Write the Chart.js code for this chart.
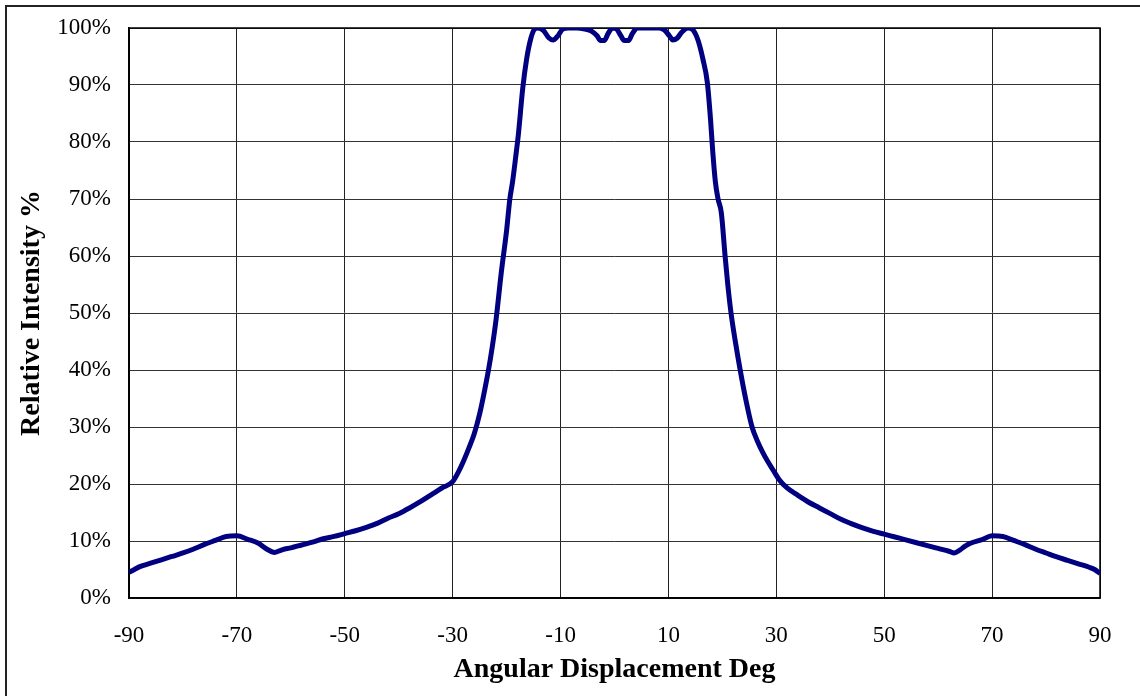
<!DOCTYPE html>
<html>
<head>
<meta charset="utf-8">
<script src="https://cdn.jsdelivr.net/npm/chart.js@4"></script>
<style>
  html, body { margin: 0; padding: 0; background: #fff; overflow: hidden; }
  canvas { display: block; }
</style>
</head>
<body>
<canvas id="grafico" width="1140" height="696"></canvas>
<script>
// angle (deg) and relative intensity (%)
const angles = [
  -90, -89, -88, -86, -84, -82, -80, -78, -76, -74, -72, -70, -68, -66, -64.5, -63, -61.5, -60,
  -58, -56, -54, -52, -50, -48, -46, -44, -42, -40, -38, -36, -34, -32, -30, -29, -28, -27,
  -26, -25, -24, -23, -22, -21, -20, -19.4, -18.9, -18.3, -17.8, -17, -16.3, -15.5, -14.8,
  -14.2, -13.2, -12.2, -11.4, -10.6, -9.6, -8.5, -7, -5.5, -4.2, -3.2, -2.6, -1.9, -1.2, -0.4,
  0.4, 1.2, 1.8, 2.6, 3.3, 4.2, 6, 8.3, 9.3, 10.2, 10.8, 11.6, 12.5, 13.6, 14.6, 15.5, 16.4,
  17.2, 17.8, 18.2, 18.7, 19.2, 19.8, 20.5, 21, 21.6, 22.4, 23.3, 24.3, 25.5, 26.5, 27.5,
  28.5, 29.5, 30.5, 32, 34, 36, 38, 40, 42, 44, 46, 48, 50, 52, 54, 56, 58, 60, 62, 63, 64,
  65, 66, 68, 70, 72, 74, 76, 78, 80, 82, 84, 86, 88, 89, 90
];
const intensity = [
  4.5, 5.0, 5.5, 6.1, 6.7, 7.3, 7.9, 8.6, 9.4, 10.1, 10.8, 10.9, 10.3, 9.6, 8.6, 8.0, 8.5, 8.8,
  9.3, 9.8, 10.4, 10.8, 11.3, 11.8, 12.4, 13.1, 14.0, 14.8, 15.8, 16.9, 18.1, 19.3, 20.4, 22.0, 24.0, 26.3,
  28.8, 32.3, 36.8, 42.0, 48.5, 57.0, 64.5, 70.0, 73.0, 77.5, 81.5, 89.5, 94.5, 98.2, 99.8,
  100, 99.6, 98.3, 97.9, 98.5, 99.8, 100, 100, 99.8, 99.4, 98.6, 97.8, 97.8, 99.0, 100,
  99.8, 98.6, 97.8, 97.8, 99.0, 100, 100, 100, 99.6, 98.6, 97.9, 98.2, 99.3, 100, 99.6, 97.8, 94.5,
  90.5, 84, 78.5, 73, 70, 67.6, 60, 55, 50, 45, 40, 35, 30, 27.5, 25.5,
  23.8, 22.3, 20.8, 19.3, 18.0, 16.8, 15.8, 14.8, 13.8, 13.0, 12.3, 11.7, 11.2, 10.7, 10.2, 9.7, 9.2, 8.7, 8.2, 7.9, 8.4,
  9.1, 9.6, 10.2, 10.9, 10.8, 10.1, 9.4, 8.6, 7.9, 7.2, 6.6, 6.0, 5.4, 5.0, 4.3
];
const xTicks = [-90, -70, -50, -30, -10, 10, 30, 50, 70, 90];
const yTicks = [0, 10, 20, 30, 40, 50, 60, 70, 80, 90, 100];

const fontSerif = "'Liberation Serif', 'Times New Roman', serif";

// sfondo bianco + cornice esterna (solo lati sinistro e alto visibili)
const cornice = {
  id: 'cornice',
  beforeDraw(chart) {
    const ctx = chart.ctx;
    ctx.save();
    ctx.fillStyle = '#fff';
    ctx.fillRect(0, 0, chart.width, chart.height);
    ctx.strokeStyle = '#222';
    ctx.lineWidth = 2;
    ctx.beginPath();
    ctx.moveTo(6, chart.height + 2);
    ctx.lineTo(6, 6);
    ctx.lineTo(chart.width + 2, 6);
    ctx.stroke();
    ctx.restore();
  },
  beforeDatasetsDraw(chart) {
    const a = chart.chartArea;
    const ctx = chart.ctx;
    ctx.save();
    ctx.strokeStyle = '#000';
    ctx.lineWidth = 1.5;
    ctx.strokeRect(a.left, a.top, a.right - a.left, a.bottom - a.top);
    ctx.restore();
  }
};

const ctx = document.getElementById('grafico').getContext('2d');
new Chart(ctx, {
  type: 'line',
  data: {
    datasets: [{
      label: 'Relative Intensity',
      data: angles.map((a, i) => ({ x: a, y: intensity[i] })),
      borderColor: '#000080',
      borderWidth: 5,
      pointRadius: 0,
      fill: false,
      cubicInterpolationMode: 'monotone'
    }]
  },
  options: {
    responsive: false,
    animation: false,
    devicePixelRatio: 1,
    layout: { padding: { left: 0, top: 28, right: 40, bottom: 0 } },
    plugins: {
      legend: { display: false },
      tooltip: { enabled: false }
    },
    scales: {
      x: {
        type: 'linear',
        min: -90,
        max: 90,
        afterBuildTicks: (scale) => { scale.ticks = xTicks.map(v => ({ value: v })); },
        afterFit: (scale) => { scale.height = 98; },
        grid: { color: '#222', lineWidth: 1, drawTicks: false },
        border: { display: true, color: '#000', width: 1.5 },
        ticks: {
          padding: 24,
          color: '#000',
          maxRotation: 0,
          autoSkip: false,
          font: { family: fontSerif, size: 23 }
        },
        title: {
          display: true,
          text: 'Angular Displacement Deg',
          color: '#000',
          font: { family: fontSerif, size: 28, weight: 'bold' },
          padding: { top: 0, bottom: 9 }
        }
      },
      y: {
        min: 0,
        max: 100,
        afterBuildTicks: (scale) => { scale.ticks = yTicks.map(v => ({ value: v })); },
        afterFit: (scale) => { scale.width = 129; },
        // tacche trasparenti: spostano le etichette senza allargare il margine alto
        grid: { color: '#333', lineWidth: 1, drawTicks: true, tickLength: 15, tickColor: 'rgba(0,0,0,0)' },
        border: { display: true, color: '#000', width: 1.5 },
        ticks: {
          padding: 3,
          color: '#000',
          font: { family: fontSerif, size: 23 },
          callback: (v) => v + '%'
        },
        title: {
          display: true,
          text: 'Relative Intensity %',
          color: '#000',
          font: { family: fontSerif, size: 28, weight: 'bold' },
          padding: { top: 15, bottom: 0 }
        }
      }
    }
  },
  plugins: [cornice]
});
</script>
</body>
</html>
